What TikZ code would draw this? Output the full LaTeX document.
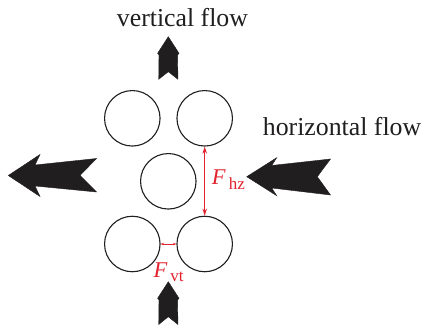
\documentclass[tikz,border=0pt]{standalone}
\usepackage{fontspec}
\setmainfont{Liberation Serif}
\usetikzlibrary{arrows.meta}
\definecolor{fred}{RGB}{226,34,44}
\definecolor{ink}{RGB}{32,30,31}
\begin{document}
\begin{tikzpicture}[x=1pt,y=-1pt,
  grain/.style={circle,draw=ink,line width=1.1pt,minimum size=55.5pt,inner sep=0pt},
  flowarrow/.style={fill=ink,draw=ink,line width=0.4pt,line join=miter},
  force/.style={draw=fred,line width=1.1pt,{Stealth[length=7pt,width=4.5pt]}-{Stealth[length=7pt,width=4.5pt]}},
  smallforce/.style={draw=fred,line width=0.8pt,{Stealth[length=3.5pt,width=2.5pt]}-{Stealth[length=3.5pt,width=2.5pt]}},
  lbl/.style={text=ink,font=\fontsize{25.8}{27}\selectfont,anchor=base west,inner sep=0pt},
  flbl/.style={text=fred,anchor=base west,inner sep=0pt}]
\useasboundingbox (0,0) rectangle (422,328);
% grains
\node[grain] (tl) at (132.3,118.3) {};
\node[grain] (tr) at (204.7,118.3) {};
\node[grain] (mid) at (168.3,181.3) {};
\node[grain] (bl) at (132.3,244) {};
\node[grain] (br) at (204.7,244) {};
% forces
\draw[force] (tr.south) -- (br.north);
\draw[smallforce] (bl.east) -- (br.west);
\node[flbl] (fhz) at (211.7,184.3) {{\fontsize{22.5}{22}\selectfont\textit{F}}\hspace{3pt}\raisebox{-5pt}{\fontsize{17}{17}\selectfont hz}};
\node[flbl] (fvt) at (153.3,277.7) {{\fontsize{22.5}{22}\selectfont\textit{F}}\hspace{3pt}\raisebox{-3.5pt}{\fontsize{17}{17}\selectfont vt}};
% labels
\node[lbl] (vflow) at (116.7,27) {vertical flow};
\node[lbl] (hflow) at (262.7,136) {horizontal flow};
% flow arrows
\fill[flowarrow] (168.3,36.7) -- (179,53.3) -- (177.6,55) -- (177.9,79.3) -- (168.3,71.7) -- (158.7,79.3) -- (159,55) -- (157.6,53.3) -- cycle;
\fill[flowarrow] (168.3,281.7) -- (179,298.3) -- (177.6,300) -- (177.9,324.5) -- (168.3,316.7) -- (158.7,324.5) -- (159,300) -- (157.6,298.3) -- cycle;
\fill[flowarrow] (246.7,176.7) -- (276.7,157.7) -- (271.7,165.5) -- (330.5,159) -- (317.3,176.7) -- (330.5,195) -- (271.7,188) -- (276.7,195.7) -- cycle;
\fill[flowarrow] (8.3,175.5) -- (40,154.5) -- (35,165) -- (96.5,158.5) -- (80,175.5) -- (96.5,192) -- (35,186) -- (40,196.5) -- cycle;
\end{tikzpicture}
\end{document}
